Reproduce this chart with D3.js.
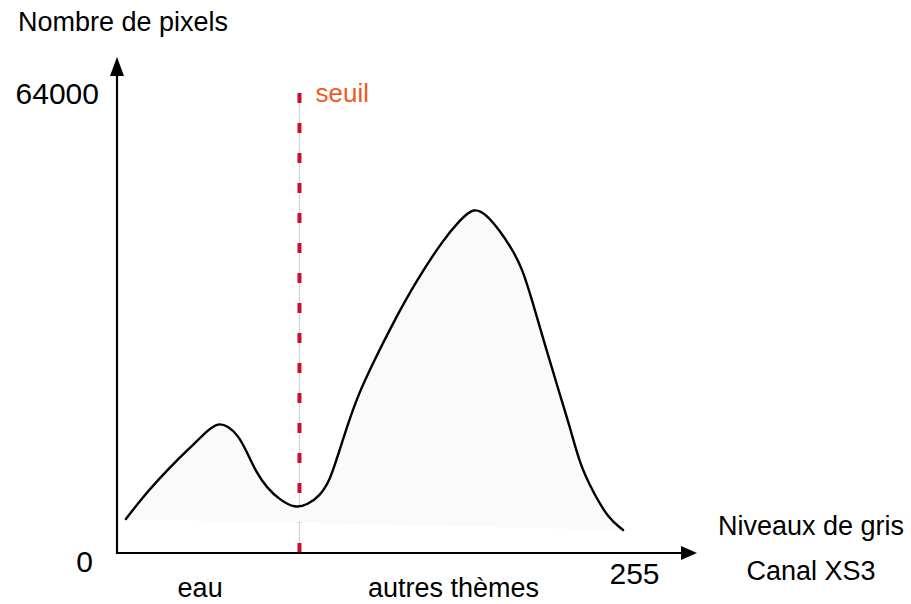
<!DOCTYPE html>
<html>
<head>
<meta charset="utf-8">
<script src="https://cdn.jsdelivr.net/npm/d3@7"></script>
<style>
  html, body { margin: 0; padding: 0; background: #fff; }
  svg { display: block; font-family: "Liberation Sans", Arial, Helvetica, sans-serif; }
</style>
</head>
<body>
<svg id="chart" width="911" height="604"></svg>
<script>
// ---- data ----
const grayLevels = [4.4, 12.8, 21.2, 29.6, 38.0, 44.9, 49.8, 54.7, 59.7, 64.1, 68.6, 74.0, 80.4, 87.8, 93.7, 100.1, 105.1, 109.0, 113.4, 118.9, 125.8, 136.1, 147.9, 160.8, 169.2, 176.1, 182.5, 188.9, 194.8, 199.8, 204.7, 211.1, 218.5, 223.4, 228.4, 234.8, 242.2, 249.6];
const pixelCounts = [4740, 7810, 10460, 12970, 15200, 17150, 18150, 17710, 16450, 14080, 11290, 9060, 7390, 6250, 6690, 7950, 10180, 13660, 17570, 22030, 26210, 32070, 38070, 43640, 46430, 48250, 47130, 44900, 42390, 39740, 35280, 29000, 22030, 17570, 12270, 8510, 4880, 3210];
const yTicks = [0, 64000];
const xTicks = [255];
const threshold = 90;
const thresholdLabel = "seuil";
const yTitle = "Nombre de pixels";
const xTitleLines = ["Niveaux de gris", "Canal XS3"];
const classLabels = ["eau", "autres thèmes"];
const classPositions = [41, 166];

// ---- scales ----
const svg = d3.select("#chart");
const x = d3.scaleLinear().domain([0, 255]).range([117, 634]);
const y = d3.scaleLinear().domain([0, 64000]).range([553, 94]);

const pts = grayLevels.map((g, i) => [g, pixelCounts[i]]);

// ---- threshold line (drawn under the area) ----
const thr = svg.append("g");
thr.append("line")
  .attr("x1", x(threshold)).attr("x2", x(threshold))
  .attr("y1", y(64000) - 1).attr("y2", y(0))
  .attr("stroke", "#d4d4d4").attr("stroke-width", 1.2);
thr.append("line")
  .attr("x1", x(threshold)).attr("x2", x(threshold))
  .attr("y1", y(64000) - 1).attr("y2", y(0))
  .attr("stroke", "#c8102e").attr("stroke-width", 4)
  .attr("stroke-dasharray", "10 20");

// ---- area (closed shape) ----
const lineGen = d3.line()
  .x(d => x(d[0])).y(d => y(d[1]))
  .curve(d3.curveBasis);

svg.append("path")
  .attr("d", lineGen(pts) + "Z")
  .attr("fill", "#fafafa")
  .attr("stroke", "none");

svg.append("path")
  .attr("d", lineGen(pts))
  .attr("fill", "none")
  .attr("stroke", "#000")
  .attr("stroke-width", 2.4)
  .attr("stroke-linejoin", "round")
  .attr("stroke-linecap", "round");

// ---- axes ----
const yAxis = d3.axisLeft(y).tickValues(yTicks).tickSize(0).tickPadding(19).tickFormat(d3.format("d"));
const gy = svg.append("g").attr("transform", `translate(${x(0)},0)`).call(yAxis);
gy.select(".domain").remove();
gy.selectAll("text").attr("font-size", 30).attr("fill", "#000")
  .attr("font-family", "Liberation Sans, Arial, sans-serif")
  .attr("dy", d => d === 0 ? "0.62em" : "0.32em")
  .attr("x", d => d === 0 ? -24 : -18);

const xAxis = d3.axisBottom(x).tickValues(xTicks).tickSize(0).tickPadding(10).tickFormat(d3.format("d"));
const gx = svg.append("g").attr("transform", `translate(0,${y(0)})`).call(xAxis);
gx.select(".domain").remove();
gx.selectAll("text").attr("font-size", 30).attr("fill", "#000")
  .attr("font-family", "Liberation Sans, Arial, sans-serif");

// axis lines with arrows
const axisG = svg.append("g");
axisG.append("line")
  .attr("x1", x(0)).attr("x2", x(0))
  .attr("y1", y(0) + 1).attr("y2", 72)
  .attr("stroke", "#000").attr("stroke-width", 2.2);
axisG.append("path")
  .attr("d", `M${x(0)},57 L${x(0) - 7},76 L${x(0) + 7},76 Z`)
  .attr("fill", "#000");
axisG.append("line")
  .attr("x1", x(0) - 1).attr("x2", 685)
  .attr("y1", y(0)).attr("y2", y(0))
  .attr("stroke", "#000").attr("stroke-width", 2.2);
axisG.append("path")
  .attr("d", `M697,${y(0)} L681,${y(0) - 7} L681,${y(0) + 7} Z`)
  .attr("fill", "#000");

// ---- labels ----
svg.append("text").attr("x", 18).attr("y", 31)
  .attr("font-size", 27).attr("fill", "#000").text(yTitle);

svg.append("text").attr("x", x(threshold) + 16).attr("y", 102)
  .attr("font-size", 26).attr("fill", "#f15a24").text(thresholdLabel);

svg.append("g").selectAll("text").data(xTitleLines).join("text")
  .attr("x", 811).attr("y", (d, i) => 535 + i * 45)
  .attr("text-anchor", "middle").attr("font-size", 27).attr("fill", "#000")
  .text(d => d);

svg.append("g").selectAll("text").data(classLabels).join("text")
  .attr("x", (d, i) => x(classPositions[i])).attr("y", 597)
  .attr("text-anchor", "middle").attr("font-size", 27).attr("fill", "#000")
  .text(d => d);
</script>
</body>
</html>
